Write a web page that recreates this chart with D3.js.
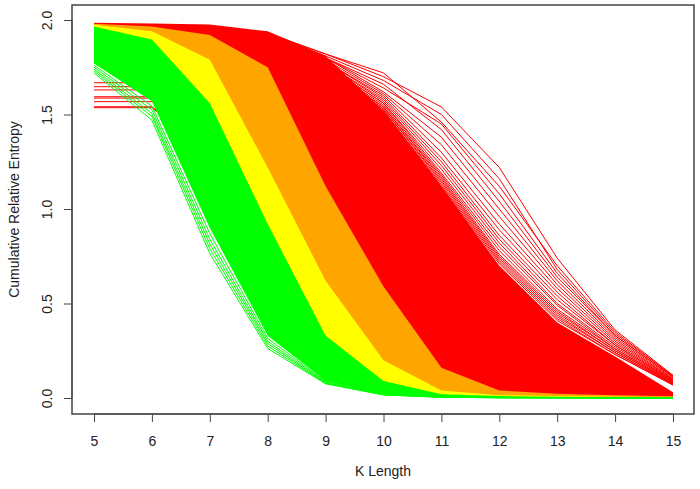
<!DOCTYPE html>
<html><head><meta charset="utf-8">
<script src="https://cdn.jsdelivr.net/npm/d3@7"></script>
<style>html,body{margin:0;padding:0;background:#fff;}svg{display:block;}</style>
</head><body>
<svg id="chart" width="700" height="489"></svg>
<script>
// ---- data ----
const kLength = [5, 6, 7, 8, 9, 10, 11, 12, 13, 14, 15];
const xTickLabels = ["5","6","7","8","9","10","11","12","13","14","15"];
const yTicks = [0, 0.5, 1, 1.5, 2];
const yTickLabels = ["0.0","0.5","1.0","1.5","2.0"];

// dense bundles: upper / lower envelope at each K
const redUpper    = [1.985, 1.982, 1.976, 1.94, 1.81, 1.52, 1.12, 0.70, 0.40, 0.22, 0.03];
const redLower    = [1.78, 1.62, 1.30, 1.30, 0.95, 0.50, 0.10, 0.00, 0.00, 0.00, 0.00];
const orangeUpper = [1.980, 1.965, 1.92, 1.75, 1.12, 0.59, 0.16, 0.04, 0.022, 0.014, 0.009];
const orangeLower = [1.90, 1.88, 1.60, 1.00, 0.45, 0.12, 0.02, 0.005, 0.0, 0.0, 0.0];
const yellowUpper = [1.975, 1.94, 1.79, 1.22, 0.62, 0.20, 0.04, 0.015, 0.010, 0.006, 0.004];
const yellowLower = [1.85, 1.80, 1.40, 0.70, 0.20, 0.04, 0.005, 0.0, 0.0, 0.0, 0.0];
const greenUpper  = [1.965, 1.897, 1.56, 0.92, 0.33, 0.09, 0.02, 0.010, 0.006, 0.004, 0.003];
const greenLower  = [1.77, 1.57, 0.90, 0.33, 0.09, 0.02, 0.005, 0.002, 0.001, 0.0, 0.0];

// individual red curves fanning out above the dense red bundle
const redLines = [
  [1.975,1.975,1.965,1.93,1.82,1.70,1.54,1.22,0.74,0.36,0.120],
  [1.975,1.975,1.965,1.93,1.82,1.72,1.46,1.12,0.70,0.35,0.115],
  [1.975,1.975,1.965,1.93,1.81,1.68,1.50,1.16,0.68,0.34,0.118],
  [1.975,1.975,1.965,1.93,1.80,1.66,1.42,1.04,0.64,0.33,0.112],
  [1.975,1.975,1.965,1.93,1.80,1.64,1.45,1.08,0.66,0.33,0.110],
  [1.975,1.975,1.965,1.93,1.80,1.62,1.38,1.00,0.62,0.32,0.105],
  [1.975,1.975,1.965,1.93,1.79,1.61,1.34,0.96,0.60,0.31,0.100],
  [1.975,1.975,1.965,1.93,1.78,1.60,1.30,0.92,0.58,0.30,0.098],
  [1.975,1.975,1.965,1.93,1.78,1.59,1.27,0.89,0.56,0.29,0.095],
  [1.975,1.975,1.965,1.93,1.77,1.58,1.25,0.86,0.54,0.28,0.092],
  [1.975,1.975,1.965,1.93,1.77,1.57,1.23,0.84,0.52,0.28,0.090],
  [1.975,1.975,1.965,1.93,1.76,1.56,1.21,0.82,0.50,0.27,0.088],
  [1.975,1.975,1.965,1.93,1.76,1.56,1.19,0.80,0.49,0.26,0.085],
  [1.975,1.975,1.965,1.93,1.75,1.55,1.18,0.78,0.47,0.26,0.082],
  [1.975,1.975,1.965,1.93,1.75,1.54,1.17,0.76,0.46,0.25,0.080],
  [1.975,1.975,1.965,1.93,1.74,1.54,1.16,0.75,0.45,0.25,0.078],
  [1.975,1.975,1.965,1.93,1.74,1.53,1.15,0.74,0.44,0.24,0.075],
  [1.975,1.975,1.965,1.93,1.73,1.53,1.14,0.73,0.43,0.24,0.072],
  [1.975,1.975,1.965,1.93,1.73,1.52,1.13,0.72,0.42,0.23,0.070],
  [1.975,1.975,1.965,1.93,1.72,1.52,1.12,0.71,0.41,0.23,0.068]
];
// red curves starting low at K = 5 (flat to K = 6, then hidden under the other bundles)
const redLowStartLines = [
  [1.536,1.536,1.30,1.30,0.90,0.45,0.10,0.02,0.010,0.005,0.003],
  [1.541,1.541,1.30,1.30,0.90,0.45,0.10,0.02,0.010,0.005,0.003],
  [1.568,1.568,1.32,1.30,0.90,0.45,0.10,0.02,0.010,0.005,0.003],
  [1.587,1.587,1.33,1.30,0.90,0.45,0.10,0.02,0.010,0.005,0.003],
  [1.594,1.594,1.34,1.30,0.90,0.45,0.10,0.02,0.010,0.005,0.003],
  [1.630,1.630,1.35,1.30,0.90,0.45,0.10,0.02,0.010,0.005,0.003],
  [1.647,1.647,1.36,1.30,0.90,0.45,0.10,0.02,0.010,0.005,0.003],
  [1.668,1.668,1.37,1.30,0.90,0.45,0.10,0.02,0.010,0.005,0.003]
];
// green curves on the lower edge of the green bundle
const greenLines = [
  [1.760,1.545,0.870,0.315,0.088,0.020,0.005,0.002,0.001,0,0],
  [1.750,1.525,0.840,0.300,0.084,0.019,0.005,0.002,0.001,0,0],
  [1.740,1.505,0.815,0.288,0.080,0.018,0.004,0.002,0.001,0,0],
  [1.730,1.490,0.790,0.275,0.078,0.017,0.004,0.001,0.001,0,0],
  [1.720,1.470,0.765,0.262,0.075,0.016,0.004,0.001,0.001,0,0]
];

const colors = {red:"#FF0000", orange:"#FFA500", yellow:"#FFFF00", green:"#00FF00"};

// ---- layout ----
const svg = d3.select("#chart");
const x = d3.scaleLinear().domain([5, 15]).range([94, 673]);
const y = d3.scaleLinear().domain([0, 2]).range([398, 20]);
const box = {left: 72, right: 694, top: 5, bottom: 414};
const font = "'Liberation Sans', Arial, Helvetica, sans-serif";

const area = d3.area().x((d) => x(d.k)).y0((d) => y(d.lo)).y1((d) => y(d.hi));
const line = d3.line().x((d, i) => x(kLength[i])).y((d) => y(d));
const band = (hi, lo) => kLength.map((k, i) => ({k, hi: hi[i], lo: lo[i]}));

const g = svg.append("g");
// red bundle
g.append("path").attr("d", area(band(redUpper, redLower))).attr("fill", colors.red);
g.selectAll(".rl").data(redLines).join("path").attr("class","rl")
  .attr("d", line).attr("fill","none").attr("stroke", colors.red).attr("stroke-width", 1);
g.selectAll(".rls").data(redLowStartLines).join("path").attr("class","rls")
  .attr("d", line).attr("fill","none").attr("stroke", colors.red).attr("stroke-width", 1);
// orange, yellow, green bundles
g.append("path").attr("d", area(band(orangeUpper, orangeLower))).attr("fill", colors.orange);
g.append("path").attr("d", area(band(yellowUpper, yellowLower))).attr("fill", colors.yellow);
g.append("path").attr("d", area(band(greenUpper, greenLower))).attr("fill", colors.green);
g.selectAll(".gl").data(greenLines).join("path").attr("class","gl")
  .attr("d", line).attr("fill","none").attr("stroke", colors.green).attr("stroke-width", 1);

// ---- box ----
svg.append("rect").attr("x", box.left).attr("y", box.top)
  .attr("width", box.right - box.left).attr("height", box.bottom - box.top)
  .attr("fill","none").attr("stroke","#444").attr("stroke-width",1.5);

// ---- axes (R style) ----
const xAxis = svg.append("g").attr("transform", `translate(0,${box.bottom})`)
  .call(d3.axisBottom(x).tickValues(kLength).tickSize(8).tickFormat((d, i) => xTickLabels[i]));
xAxis.select(".domain").attr("d", `M${x(5)},0H${x(15)}`).attr("stroke","#444");
xAxis.selectAll(".tick line").attr("stroke","#444");
xAxis.selectAll(".tick text").attr("y", 27).attr("dy","0.35em")
  .style("font-family", font).style("font-size","14px").attr("fill","#222");

const yAxis = svg.append("g").attr("transform", `translate(${box.left},0)`)
  .call(d3.axisLeft(y).tickValues(yTicks).tickSize(8).tickFormat((d, i) => yTickLabels[i]));
yAxis.select(".domain").attr("d", `M0,${y(0)}V${y(2)}`).attr("stroke","#444");
yAxis.selectAll(".tick line").attr("stroke","#444");
yAxis.selectAll(".tick text")
  .attr("x", null).attr("dy", null)
  .attr("transform", "translate(-25,0) rotate(-90)")
  .attr("text-anchor","middle").attr("dy","0.35em")
  .style("font-family", font).style("font-size","14px").attr("fill","#222");

// ---- titles ----
svg.append("text").attr("x", (box.left + box.right) / 2).attr("y", 476)
  .attr("text-anchor","middle").style("font-family", font).style("font-size","14px")
  .attr("fill","#222").text("K Length");
svg.append("text").attr("transform", `translate(14,${(box.top + box.bottom) / 2}) rotate(-90)`)
  .attr("text-anchor","middle").attr("dy","0.35em").style("font-family", font).style("font-size","14px")
  .attr("fill","#222").text("Cumulative Relative Entropy");
</script>
</body></html>
